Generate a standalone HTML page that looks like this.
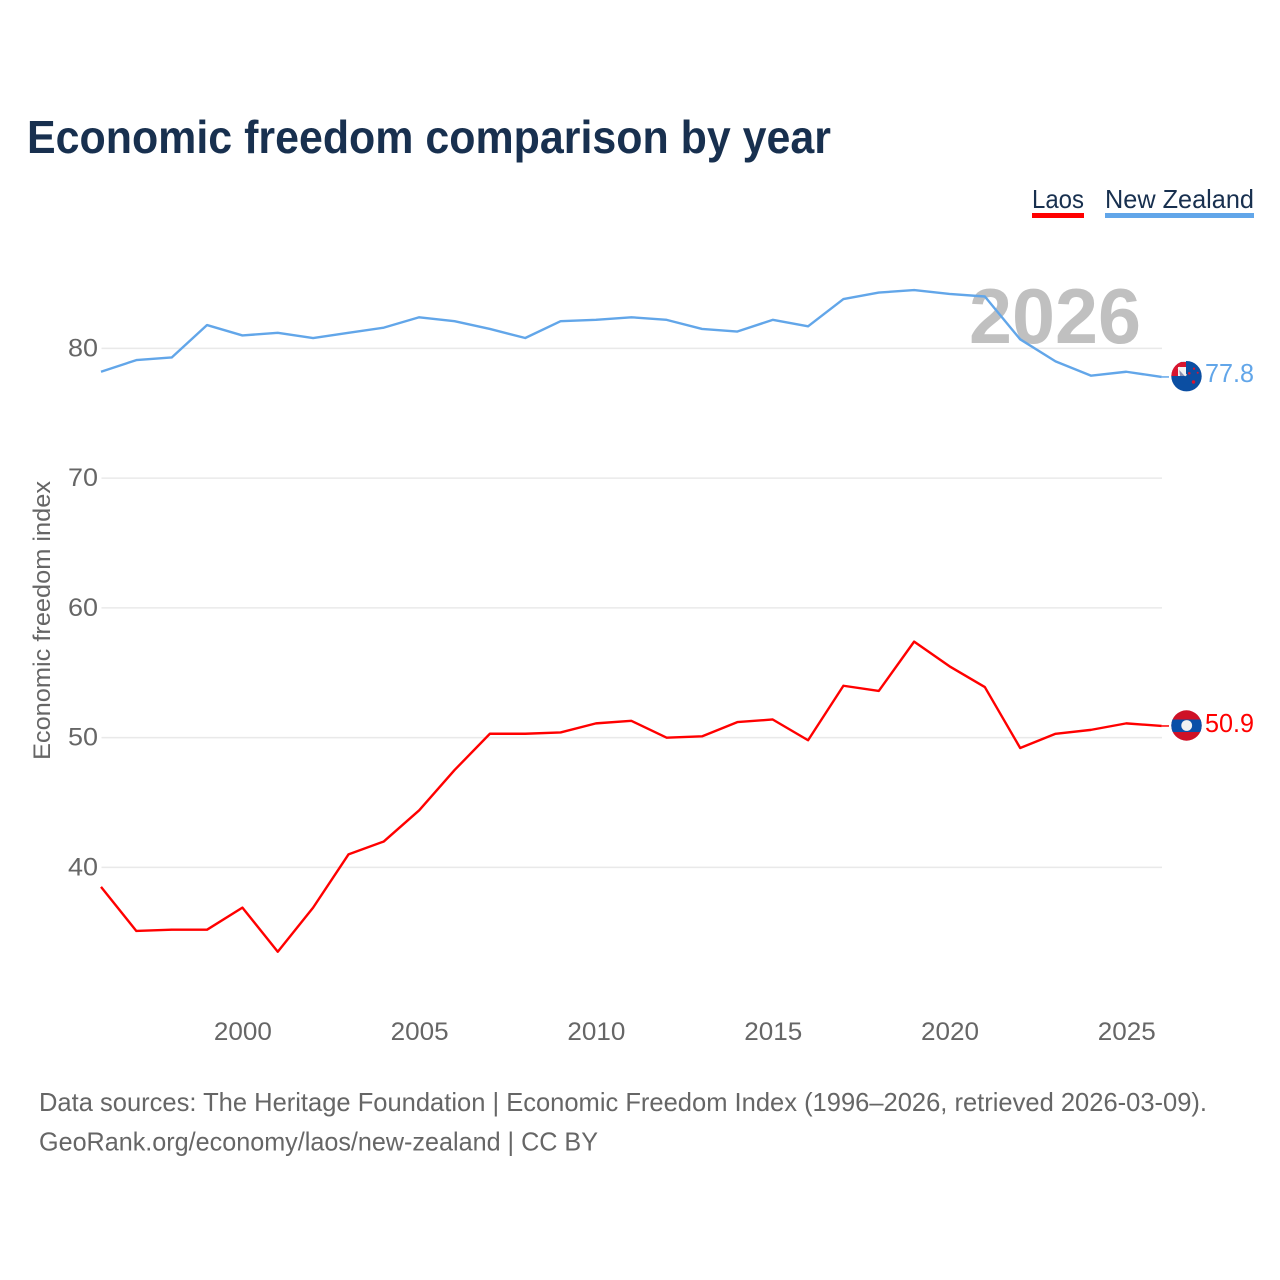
<!DOCTYPE html>
<html lang="en">
<head>
<meta charset="utf-8">
<title>Economic freedom comparison by year</title>
<style>
html,body{margin:0;padding:0;background:#fff;}
svg{display:block;font-family:"Liberation Sans",sans-serif;}
</style>
</head>
<body>
<svg id="chart" xmlns="http://www.w3.org/2000/svg" width="1280" height="1280" viewBox="0 0 1280 1280">
  <defs>
    <clipPath id="nz-clip"><circle cx="1186.5" cy="376.2" r="15.2"/></clipPath>
    <clipPath id="la-clip"><circle cx="1186.5" cy="725.5" r="15.2"/></clipPath>
  </defs>
  <rect width="1280" height="1280" fill="#fff"/>
  <text x="27" y="153" font-size="46" font-weight="700" fill="#18304f" textLength="804" lengthAdjust="spacingAndGlyphs">Economic freedom comparison by year</text>

  <g>
    <g>
      <text x="1032" y="208" font-size="26" fill="#18304f" textLength="52" lengthAdjust="spacingAndGlyphs">Laos</text>
      <rect x="1032" y="213" width="52" height="5" fill="#ff0000"/>
    </g>
    <g>
      <text x="1105" y="208" font-size="26" fill="#18304f" textLength="149" lengthAdjust="spacingAndGlyphs">New Zealand</text>
      <rect x="1105" y="213" width="149" height="5" fill="#62a6e9"/>
    </g>
  </g>

  <text transform="translate(50,760) rotate(-90)" font-size="24" fill="#666" textLength="279" lengthAdjust="spacingAndGlyphs">Economic freedom index</text>

  <g id="grid"></g>
  <g id="y-ticks"></g>
  <g id="x-ticks"></g>

  <text x="969" y="343" font-size="78" font-weight="700" fill="#c0c0c0" textLength="172" lengthAdjust="spacingAndGlyphs">2026</text>

  <g id="series"></g>

  <g clip-path="url(#nz-clip)">
    <rect x="1171" y="361" width="31" height="31" fill="#0b4ea2"/>
    <rect x="1171" y="361" width="15" height="15" fill="#f2f2f2"/>
    <rect x="1171" y="362" width="15" height="5" fill="#d8152f"/>
    <rect x="1171" y="362" width="7" height="14" fill="#d8152f"/>
    <path d="M1181 367 L1186 367 L1186 376 L1178 376 L1178 370 Z" fill="#f2f2f2"/>
    <path d="M1179 368 L1187 376 L1180 376 Z" fill="#8a8fb0"/>
    <path d="M1178.5 367.5 L1186 375.5" stroke="#f2f2f2" stroke-width="2.4"/>
    <circle cx="1194" cy="368.7" r="1.2" fill="#d8152f"/>
    <circle cx="1189.3" cy="373.3" r="1.3" fill="#d8152f"/>
    <circle cx="1197.7" cy="372.7" r="1" fill="#d8152f"/>
    <circle cx="1193.5" cy="382" r="1.7" fill="#d8152f"/>
  </g>
  <g clip-path="url(#la-clip)">
    <rect x="1171" y="710" width="31" height="31" fill="#ce1126"/>
    <rect x="1171" y="719.5" width="31" height="12.5" fill="#0a4fa8"/>
    <circle cx="1186.7" cy="725.5" r="5.4" fill="#f2f2f2"/>
  </g>

  <text id="label-nz" x="1205" y="382" font-size="26" fill="#62a6e9" textLength="49" lengthAdjust="spacingAndGlyphs"></text>
  <text id="label-la" x="1205" y="732" font-size="26" fill="#ff0000" textLength="49" lengthAdjust="spacingAndGlyphs"></text>

  <g>
    <text x="39" y="1111" font-size="26" fill="#666" textLength="1168" lengthAdjust="spacingAndGlyphs">Data sources: The Heritage Foundation | Economic Freedom Index (1996–2026, retrieved 2026-03-09).</text>
    <text x="39" y="1150.5" font-size="26" fill="#666" textLength="559" lengthAdjust="spacingAndGlyphs">GeoRank.org/economy/laos/new-zealand | CC BY</text>
  </g>
</svg>
<script>
const years = [1996,1997,1998,1999,2000,2001,2002,2003,2004,2005,2006,2007,2008,2009,2010,2011,2012,2013,2014,2015,2016,2017,2018,2019,2020,2021,2022,2023,2024,2025,2026];
const newZealandValues = [78.2,79.1,79.3,81.8,81.0,81.2,80.8,81.2,81.6,82.4,82.1,81.5,80.8,82.1,82.2,82.4,82.2,81.5,81.3,82.2,81.7,83.8,84.3,84.5,84.2,84.0,80.7,79.0,77.9,78.2,77.8];
const laosValues = [38.5,35.1,35.2,35.2,36.9,33.5,36.9,41.0,42.0,44.4,47.5,50.3,50.3,50.4,51.1,51.3,50.0,50.1,51.2,51.4,49.8,54.0,53.6,57.4,55.5,53.9,49.2,50.3,50.6,51.1,50.9];
const yTickValues = [40,50,60,70,80];
const xTickValues = [2000,2005,2010,2015,2020,2025];

const NS = 'http://www.w3.org/2000/svg';
function xScale(year){ return 101 + (year - 1996) * (1161.6 - 101) / 30; }
function yScale(value){ return 348.4 + (80 - value) * 12.975; }
function make(tag, attrs, parent, text){
  const el = document.createElementNS(NS, tag);
  for (const k in attrs) el.setAttribute(k, attrs[k]);
  if (text !== undefined) el.textContent = text;
  parent.appendChild(el);
  return el;
}

const grid = document.getElementById('grid');
const yTicks = document.getElementById('y-ticks');
const xTicks = document.getElementById('x-ticks');
const seriesGroup = document.getElementById('series');

yTickValues.forEach(function(v){
  const line = make('line', {x1:101.5, x2:1162, y1:yScale(v), y2:yScale(v), stroke:'#e9e9e9', 'stroke-width':1.5}, grid);
  
  
  const label = make('text', {x:98, y:yScale(v) + 8, 'text-anchor':'end', 'font-size':25, fill:'#666', textLength:30, lengthAdjust:'spacingAndGlyphs'}, yTicks, String(v));
  
  
});

xTickValues.forEach(function(v){
  const label = make('text', {x:xScale(v) + 0.5, y:1040, 'text-anchor':'middle', 'font-size':25, fill:'#666', textLength:58, lengthAdjust:'spacingAndGlyphs'}, xTicks, String(v));
  
  
});

function drawSeries(values, color, name){
  const d = values.map(function(v, i){
    return (i ? 'L' : 'M') + xScale(years[i]).toFixed(2) + ' ' + yScale(v).toFixed(2);
  }).join(' ');
  const path = make('path', {d:d, fill:'none', stroke:color, 'stroke-width':2.4, 'stroke-linejoin':'round'}, seriesGroup);
  
  
  const lastY = yScale(values[values.length - 1]);
  const connector = make('line', {x1:1161.6, x2:1169, y1:lastY, y2:lastY, stroke:color, 'stroke-width':1.5}, seriesGroup);
  
  
}
drawSeries(newZealandValues, '#62a6e9', 'new-zealand');
drawSeries(laosValues, '#ff0000', 'laos');

document.getElementById('label-nz').textContent = newZealandValues[newZealandValues.length - 1].toFixed(1);
document.getElementById('label-la').textContent = laosValues[laosValues.length - 1].toFixed(1);
</script>
</body>
</html>
